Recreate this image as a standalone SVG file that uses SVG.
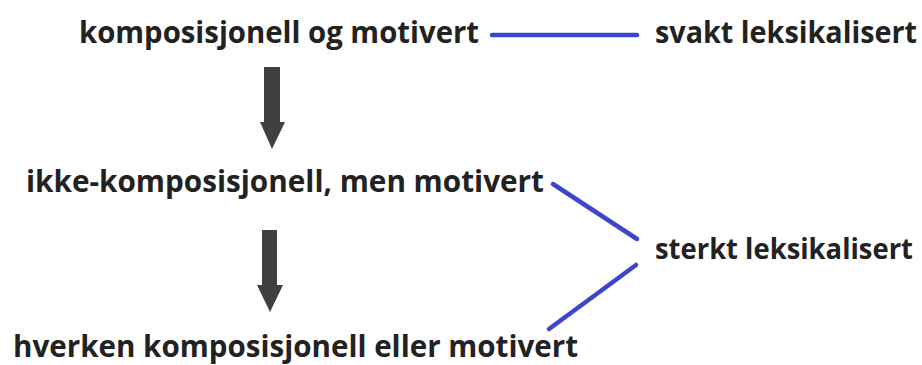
<svg xmlns="http://www.w3.org/2000/svg" width="922" height="365" viewBox="0 0 922 365">
<style>
text{font-family:"Open Sans","Noto Sans",sans-serif;font-weight:bold;font-size:29.5px;fill:#222}
.c{stroke:#3d45cc;stroke-width:4.5;stroke-linecap:round;fill:none}
.a{fill:#404040}
</style>
<rect width="922" height="365" fill="#fff"/>
<g id="n1"><text x="79" y="43" textLength="400" lengthAdjust="spacingAndGlyphs">komposisjonell og motivert</text></g>
<g id="n2"><text x="655" y="43" textLength="262" lengthAdjust="spacingAndGlyphs">svakt leksikalisert</text></g>
<g id="n3"><text x="26" y="192" textLength="518" lengthAdjust="spacingAndGlyphs">ikke-komposisjonell, men motivert</text></g>
<g id="n4"><text x="655" y="259" style="font-size:28.3px" textLength="258" lengthAdjust="spacingAndGlyphs">sterkt leksikalisert</text></g>
<g id="n5"><text x="13" y="357" textLength="565" lengthAdjust="spacingAndGlyphs">hverken komposisjonell eller motivert</text></g>
<g id="connectors">
<polygon class="a" points="264,67 280,67 280,122 285,122 272,149 260,122 264,122"/>
<polygon class="a" points="262,230 277,230 277,285 283,285 270,312 257,285 262,285"/>
<line class="c" x1="492" y1="35" x2="637" y2="35"/>
<line class="c" x1="553" y1="184" x2="637" y2="239"/>
<line class="c" x1="636" y1="265" x2="549" y2="329"/>
</g>
</svg>
